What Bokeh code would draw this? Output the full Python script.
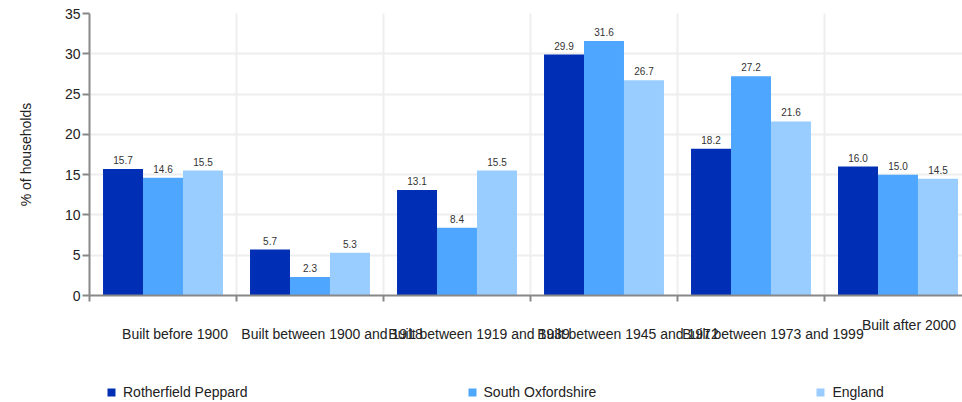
from bokeh.plotting import figure
from bokeh.layouts import column
from bokeh.models import Range1d, FixedTicker, Legend, LegendItem, ColumnDataSource, LinearAxis
from bokeh.embed import file_html
from bokeh.resources import INLINE
from bokeh.transform import dodge
from bokeh.core.properties import value

# ---- data ----
categories = ["Built before 1900", "Built between 1900 and 1918", "Built between 1919 and 1939",
              "Built between 1945 and 1972", "Built between 1973 and 1999", "Built after 2000"]
series_names = ["Rotherfield Peppard", "South Oxfordshire", "England"]
rotherfield = [15.7, 5.7, 13.1, 29.9, 18.2, 16.0]
south_oxon = [14.6, 2.3, 8.4, 31.6, 27.2, 15.0]
england = [15.5, 5.3, 15.5, 26.7, 21.6, 14.5]
y_ticks = [0, 5, 10, 15, 20, 25, 30, 35]

# ---- style ----
colors = ["#002eb4", "#4ea6ff", "#99ccff"]
FONT = "Liberation Sans"
W, H, LEG_H = 962, 376, 26
BORDER_L, BORDER_T, BORDER_B, BORDER_R = 89, 13, 81, 0
Y_MAX = 35
CAT_PX = 147.0
X_END = (W - BORDER_L - BORDER_R) / CAT_PX
bar_w = 0.272
offsets = [-bar_w, 0, bar_w]
label_shift_px = [12, 22, 22, 24, 22, 11]

n = len(categories)
src = ColumnDataSource(dict(
    x=[i + 0.5 for i in range(n)],
    s0=rotherfield, s1=south_oxon, s2=england,
    t0=[f"{v:.1f}" for v in rotherfield],
    t1=[f"{v:.1f}" for v in south_oxon],
    t2=[f"{v:.1f}" for v in england],
))

p = figure(width=W, height=H, output_backend="svg", toolbar_location=None,
           x_range=Range1d(0, X_END), y_range=Range1d(0, Y_MAX),
           min_border_left=BORDER_L, min_border_top=BORDER_T,
           min_border_bottom=BORDER_B, min_border_right=BORDER_R)
p.outline_line_color = None
p.background_fill_color = "white"
p.border_fill_color = "white"

for k in range(3):
    p.vbar(x=dodge("x", offsets[k], range=p.x_range), top=f"s{k}", width=bar_w,
           source=src, fill_color=colors[k], line_color=None)
    p.text(x=dodge("x", offsets[k], range=p.x_range), y=f"s{k}", text=f"t{k}", source=src,
           text_align="center", text_baseline="bottom", y_offset=-5,
           text_font=value(FONT), text_font_size="10px", text_color="#333333")

# x axis: minor ticks at category boundaries; last label slightly higher than the others
boundaries = list(range(n + 1))
label_pos = [i + 0.5 + label_shift_px[i] / CAT_PX for i in range(n)]

def style_labels(ax):
    ax.major_label_text_font = FONT
    ax.major_label_text_font_size = "14px"
    ax.major_label_text_color = "#222222"
    ax.major_tick_line_color = None
    ax.major_tick_out = 0
    ax.major_tick_in = 0

ax1 = p.xaxis[0]
ax1.ticker = FixedTicker(ticks=label_pos[-1:], minor_ticks=boundaries)
ax1.major_label_overrides = {label_pos[-1]: categories[-1]}
style_labels(ax1)
ax1.major_label_standoff = 15
ax1.axis_line_color = "#888888"
ax1.axis_line_width = 2
ax1.minor_tick_line_color = "#888888"
ax1.minor_tick_line_width = 2
ax1.minor_tick_out = 6
ax1.minor_tick_in = 0

ax2 = LinearAxis(ticker=FixedTicker(ticks=label_pos[:-1]),
                 major_label_overrides={lp: c for lp, c in zip(label_pos[:-1], categories[:-1])})
style_labels(ax2)
ax2.axis_line_color = None
ax2.minor_tick_line_color = None
ax2.major_label_standoff = -10
p.add_layout(ax2, "below")

p.yaxis.ticker = FixedTicker(ticks=y_ticks)
p.yaxis.axis_line_color = "#888888"
p.yaxis.axis_line_width = 2
p.yaxis.major_tick_line_color = "#888888"
p.yaxis.major_tick_line_width = 2
p.yaxis.major_tick_out = 7
p.yaxis.major_tick_in = 0
p.yaxis.minor_tick_line_color = None
p.yaxis.major_label_text_font = FONT
p.yaxis.major_label_text_font_size = "14px"
p.yaxis.major_label_text_color = "#222222"
p.yaxis.major_label_standoff = 2
p.yaxis.axis_label = "% of households"
p.yaxis.axis_label_text_font = FONT
p.yaxis.axis_label_text_font_size = "14px"
p.yaxis.axis_label_text_font_style = "normal"
p.yaxis.axis_label_text_color = "#222222"
p.yaxis.axis_label_standoff = 28

p.xgrid.ticker = FixedTicker(ticks=boundaries)
p.xgrid.grid_line_color = "#eeeeee"
p.xgrid.grid_line_width = 2
p.ygrid.grid_line_color = "#eeeeee"
p.ygrid.grid_line_width = 2

# legend strip (frame aligned with the chart's frame by the column layout)
pl = figure(width=W, height=LEG_H, output_backend="svg", toolbar_location=None,
            x_axis_type=None, y_axis_type=None,
            min_border_left=0, min_border_right=0, min_border_top=0, min_border_bottom=0)
pl.outline_line_color = None
pl.xgrid.visible = False
pl.ygrid.visible = False
leg_renderers = [pl.vbar(x="x", top=f"s{k}", width=bar_w, source=src,
                         fill_color=colors[k], line_color=None, visible=False) for k in range(3)]
legend = Legend(items=[LegendItem(label=series_names[k], renderers=[leg_renderers[k]]) for k in range(3)],
                orientation="horizontal", location=(17, 2),
                glyph_width=10, glyph_height=10, label_standoff=7, spacing=219, label_height=14,
                padding=0, margin=0, border_line_color=None, background_fill_alpha=0,
                label_text_font=FONT, label_text_font_size="14px", label_text_color="#222222")
pl.add_layout(legend, "center")

layout = column(p, pl, spacing=0)
open("out.html", "w").write(file_html(layout, INLINE))
